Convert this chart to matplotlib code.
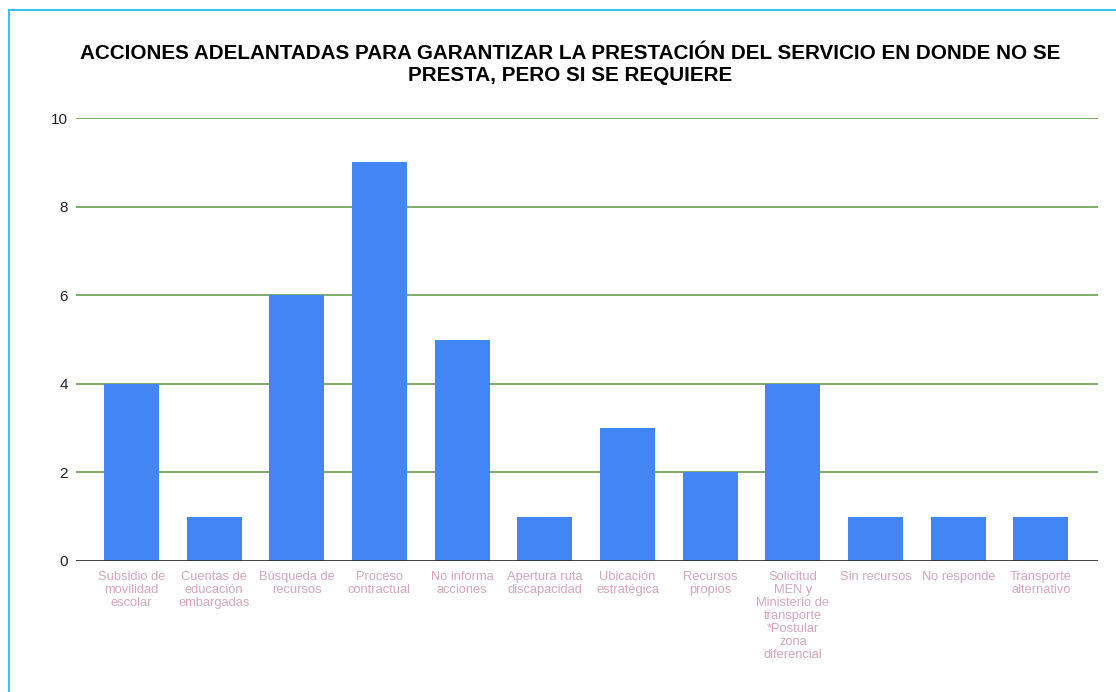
import matplotlib
matplotlib.use("Agg")
import matplotlib.pyplot as plt
from matplotlib.lines import Line2D

categories = [
    "Subsidio de\nmovilidad\nescolar",
    "Cuentas de\neducación\nembargadas",
    "Búsqueda de\nrecursos",
    "Proceso\ncontractual",
    "No informa\nacciones",
    "Apertura ruta\ndiscapacidad",
    "Ubicación\nestratégica",
    "Recursos\npropios",
    "Solicitud\nMEN y\nMinisterio de\ntransporte\n*Postular\nzona\ndiferencial",
    "Sin recursos",
    "No responde",
    "Transporte\nalternativo",
]
values = [4, 1, 6, 9, 5, 1, 3, 2, 4, 1, 1, 1]
yticks = [0, 2, 4, 6, 8, 10]
title = "ACCIONES ADELANTADAS PARA GARANTIZAR LA PRESTACIÓN DEL SERVICIO EN DONDE NO SE\nPRESTA, PERO SI SE REQUIERE"

plt.rcParams['font.family'] = ['Liberation Sans', 'DejaVu Sans']

fig = plt.figure(figsize=(11.16, 6.92), dpi=100)
ax = fig.add_axes([76/1116, 1-561/692, (1098-76)/1116, (561-118)/692])

x = list(range(len(categories)))
ax.bar(x, values, width=0.665, color="#4285f4", zorder=3)

ax.set_ylim(0, 10)
ax.set_xlim(-0.67, len(categories) - 1 + 0.69)
ax.set_yticks(yticks)
ax.set_yticklabels([str(t) for t in yticks], fontsize=11, color="#222222")
ax.set_xticks(x)
ax.set_xticklabels(categories, fontsize=9.3, color="#d5a6bd", linespacing=1.12)
ax.tick_params(axis='both', length=0)
ax.tick_params(axis='y', pad=6)
ax.tick_params(axis='x', pad=7)
for s in ax.spines.values():
    s.set_visible(False)
for t in yticks[1:]:
    ax.axhline(t, color="#57993f", linewidth=1.1, zorder=1)
ax.axhline(0, color="#333333", linewidth=1.3, zorder=4)

fig.text(570/1116, 1-64.5/692, title, ha='center', va='center', fontsize=14.9,
         fontweight='bold', color='black', linespacing=1.2)

# cyan border (top and left)
fig.add_artist(Line2D([9/1116, 1], [1-10/692, 1-10/692], color="#1ec0f0", linewidth=1.3, transform=fig.transFigure))
fig.add_artist(Line2D([9/1116, 9/1116], [0, 1-10/692], color="#1ec0f0", linewidth=1.3, transform=fig.transFigure))

fig.savefig("out.png", dpi=100, facecolor="white")
